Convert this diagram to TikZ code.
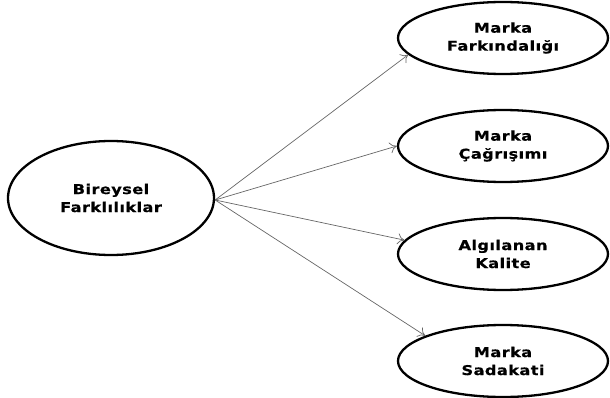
\documentclass[tikz,border=0pt]{standalone}
\usepackage{fontspec}
\setmainfont{DejaVu Sans}[FakeStretch=1.2,LetterSpace=3,FakeBold=0.6]
\usetikzlibrary{arrows.meta,shapes.geometric}
\begin{document}
\begin{tikzpicture}[x=1pt,y=-1pt,
  ell/.style={draw=black, line width=2.3pt, ellipse, minimum width=210pt, minimum height=72pt, inner sep=0pt, align=center, font=\bfseries\fontsize{13.5}{18}\selectfont},
  conn/.style={draw=black!60, line width=0.7pt, -{To[length=7pt,width=11pt,open]}}]
\useasboundingbox (0,0) rectangle (610,398);
\node[ell, minimum width=206pt, minimum height=114pt] (src) at (111,198) {Bireysel\\Farklılıklar};
\node[ell] (a) at (503,38) {Marka\\Farkındalığı};
\node[ell] (b) at (503,146) {Marka\\Çağrışımı};
\node[ell] (c) at (503,254) {Algılanan\\Kalite};
\node[ell] (d) at (503,361) {Marka\\Sadakati};
\coordinate (o) at ([yshift=-2pt]src.east);
\draw[conn] (o) -- (a.190);
\draw[conn] (o) -- (b.180);
\draw[conn] (o) -- (c.172);
\draw[conn] (o) -- (d.162);
\end{tikzpicture}
\end{document}
